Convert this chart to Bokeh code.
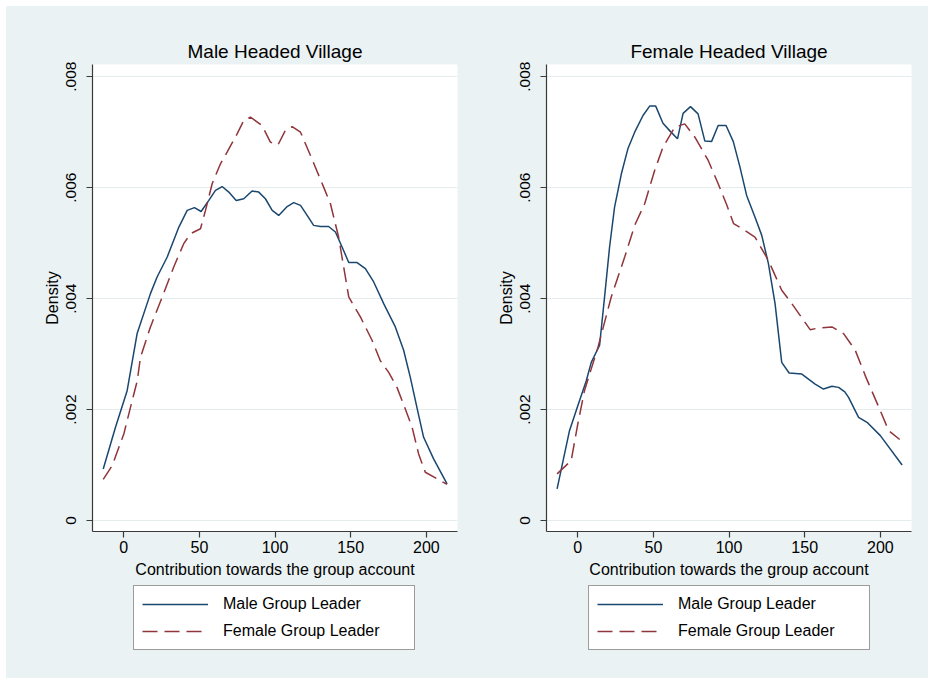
from bokeh.plotting import figure
from bokeh.models import (Range1d, FixedTicker, CustomJSTickFormatter, Legend, LegendItem)
from bokeh.layouts import row, column
from bokeh.embed import file_html
from bokeh.resources import INLINE

# ---------------- data ----------------
titles = ["Male Headed Village", "Female Headed Village"]
x_label = "Contribution towards the group account"
y_label = "Density"
series_names = ["Male Group Leader", "Female Group Leader"]
x_ticks = [0, 50, 100, 150, 200]
y_ticks = [0, 0.002, 0.004, 0.006, 0.008]

# Male headed village, male group leader
mhv_male_x = [-13.6, -5.5, 2.2, 8.8, 17.6, 22.0, 28.7, 36.4, 41.9, 46.7, 51.1, 56.2, 60.6, 65.0,
              69.4, 74.3, 79.3, 84.8, 89.2, 93.6, 98.1, 102.4, 108.0, 112.3, 116.8, 121.2,
              125.5, 130.0, 135.4, 139.9, 144.3, 148.7, 154.2, 159.7, 165.2, 171.8, 179.5,
              185.0, 189.4, 194.9, 198.2, 204.8, 213.7]
mhv_male_y = [0.00093, 0.00168, 0.00234, 0.00337, 0.00409, 0.00439, 0.00475, 0.00529, 0.00559,
              0.00564, 0.00557, 0.00577, 0.00595, 0.00602, 0.00592, 0.00577, 0.00580, 0.00594,
              0.00592, 0.00580, 0.00559, 0.00550, 0.00566, 0.00573, 0.00568, 0.00550, 0.00532,
              0.00530, 0.00530, 0.00520, 0.00493, 0.00465, 0.00465, 0.00454, 0.00430, 0.00391,
              0.00349, 0.00307, 0.00258, 0.00190, 0.00150, 0.00111, 0.00066]

# Male headed village, female group leader
mhv_female_x = [-13.6, -7.7, 0.0, 4.4, 8.9, 11.0, 17.6, 25.4, 33.0, 39.6, 44.1, 50.7, 54.0, 58.4,
                63.9, 68.3, 74.9, 79.3, 83.7, 91.4, 96.9, 101.9, 106.8, 111.3, 116.8, 123.4,
                132.1, 136.6, 142.0, 148.7, 156.4, 164.1, 169.6, 175.1, 180.6, 186.1, 190.6,
                194.9, 199.3, 213.7]
mhv_female_y = [0.00074, 0.00099, 0.00156, 0.00204, 0.00252, 0.00294, 0.00349, 0.00403, 0.00457,
                0.00499, 0.00517, 0.00526, 0.00559, 0.00607, 0.00643, 0.00664, 0.00697, 0.00721,
                0.00727, 0.00712, 0.00682, 0.00677, 0.00703, 0.00710, 0.00700, 0.00658, 0.00601,
                0.00571, 0.00511, 0.00403, 0.00367, 0.00325, 0.00288, 0.00267, 0.00240, 0.00201,
                0.00168, 0.00120, 0.00087, 0.00065]

# Female headed village, male group leader
fhv_male_x = [-13.7, -5.5, 0.0, 5.6, 8.9, 14.4, 17.7, 21.0, 24.3, 28.8, 33.1, 37.6, 43.1, 47.5,
              51.5, 56.3, 61.3, 65.9, 69.6, 74.5, 79.5, 84.0, 88.4, 92.8, 98.0, 102.8, 107.2,
              111.6, 117.1, 121.6, 126.0, 130.4, 134.8, 139.7, 148.1, 152.5, 156.9, 162.4,
              168.0, 172.4, 176.5, 179.0, 185.6, 191.2, 200.0, 214.4]
fhv_male_y = [0.00057, 0.00162, 0.00207, 0.00252, 0.00285, 0.00316, 0.00403, 0.00493, 0.00565,
              0.00625, 0.00670, 0.00700, 0.00730, 0.00747, 0.00747, 0.00716, 0.00701, 0.00688,
              0.00734, 0.00746, 0.00733, 0.00684, 0.00683, 0.00712, 0.00712, 0.00683, 0.00637,
              0.00586, 0.00547, 0.00514, 0.00463, 0.00391, 0.00285, 0.00266, 0.00264, 0.00255,
              0.00246, 0.00237, 0.00242, 0.00240, 0.00232, 0.00222, 0.00186, 0.00177, 0.00153,
              0.00100]

# Female headed village, female group leader
fhv_female_x = [-13.7, -4.4, 0.0, 4.4, 13.3, 22.1, 31.0, 37.6, 44.2, 50.8, 56.3, 64.1, 70.7,
                77.4, 86.2, 92.8, 98.3, 103.0, 110.5, 117.1, 126.0, 134.8, 141.5, 153.6, 159.1,
                168.0, 175.7, 183.4, 190.5, 199.5, 205.5, 212.8]
fhv_female_y = [0.00084, 0.00108, 0.00174, 0.00234, 0.00312, 0.00403, 0.00475, 0.00532, 0.00571,
                0.00631, 0.00673, 0.00709, 0.00715, 0.00691, 0.00649, 0.00607, 0.00570, 0.00535,
                0.00523, 0.00511, 0.00469, 0.00415, 0.00391, 0.00344, 0.00347, 0.00349, 0.00337,
                0.00307, 0.00258, 0.00201, 0.00162, 0.00146]

# ---------------- style ----------------
BG = "#eaf2f3"
NAVY = "#1a476f"
MAROON = "#90353b"
FONT = "Liberation Sans"
PANEL_W = 461
MAIN_H = 576
LEG_H = 96
DASH = "15 7"
LW = 1.5


def make_panel(title, male_x, male_y, fem_x, fem_y, border_left, border_right, legend_x):
    p = figure(width=PANEL_W, height=MAIN_H, output_backend="svg", toolbar_location=None,
               x_range=Range1d(-20.7, 220.6), y_range=Range1d(-0.000198, 0.00822),
               min_border_left=border_left, min_border_right=border_right,
               min_border_top=58, min_border_bottom=MAIN_H - 525,
               border_fill_color=BG, background_fill_color="white",
               outline_line_color=None)
    p.title.text = title
    p.title.align = "center"
    p.title.text_font = FONT
    p.title.text_font_size = "19px"
    p.title.text_font_style = "normal"
    p.title.text_color = "black"
    p.title.standoff = 5

    p.line(male_x, male_y, line_color=NAVY, line_width=LW)
    p.line(fem_x, fem_y, line_color=MAROON, line_width=LW, line_dash=DASH)

    p.xgrid.visible = False
    p.ygrid.grid_line_color = "#e4ecee"
    p.ygrid.grid_line_width = 1.2

    for ax in (p.xaxis[0], p.yaxis[0]):
        ax.axis_line_color = "#3a3a3a"
        ax.axis_line_width = 1.2
        ax.major_tick_line_color = "#3a3a3a"
        ax.major_tick_line_width = 1.2
        ax.major_tick_in = 0
        ax.major_tick_out = 6
        ax.minor_tick_line_color = None
        ax.major_label_text_font = FONT
        ax.major_label_text_color = "black"
        ax.axis_label_text_font = FONT
        ax.axis_label_text_font_style = "normal"
        ax.axis_label_text_color = "black"

    p.xaxis.ticker = FixedTicker(ticks=x_ticks)
    p.xaxis.major_label_text_font_size = "16px"
    p.xaxis.major_label_standoff = 3
    p.xaxis.axis_label = x_label
    p.xaxis.axis_label_text_font_size = "16px"
    p.xaxis.axis_label_standoff = 5

    p.yaxis.ticker = FixedTicker(ticks=y_ticks)
    p.yaxis.formatter = CustomJSTickFormatter(
        code="return tick == 0 ? '0' : tick.toFixed(3).replace(/^0/, '');")
    p.yaxis.major_label_orientation = "vertical"
    p.yaxis.major_label_text_font_size = "15.5px"
    p.yaxis.major_label_standoff = 10
    p.yaxis.axis_label = y_label
    p.yaxis.axis_label_text_font_size = "16px"
    p.yaxis.axis_label_standoff = 3

    # legend area below the panel (its frame aligns with the panel's frame);
    # the key lines reuse the series but sit outside this strip's view range
    lg = figure(width=PANEL_W, height=LEG_H, output_backend="svg", toolbar_location=None,
                x_range=Range1d(-20.7, 220.6), y_range=Range1d(1.0, 2.0),
                x_axis_type=None, y_axis_type=None,
                min_border_left=border_left, min_border_right=border_right,
                min_border_top=0, min_border_bottom=0,
                border_fill_color=BG, background_fill_color=BG, outline_line_color=None)
    k1 = lg.line(male_x, male_y, line_color=NAVY, line_width=LW)
    k2 = lg.line(fem_x, fem_y, line_color=MAROON, line_width=LW, line_dash=DASH)
    legend = Legend(items=[LegendItem(label=series_names[0], renderers=[k1]),
                           LegendItem(label=series_names[1], renderers=[k2])],
                    location=(legend_x, 28), orientation="vertical",
                    glyph_width=66, glyph_height=20, label_height=20,
                    label_width=183, label_standoff=15, padding=8, spacing=7,
                    margin=0,
                    label_text_font=FONT, label_text_font_size="16px",
                    label_text_color="black",
                    border_line_color="#3a3a3a", border_line_width=1.5,
                    background_fill_color="white", background_fill_alpha=1.0)
    lg.add_layout(legend, "center")
    return column(p, lg, spacing=0, styles={"background-color": BG})


c1 = make_panel(titles[0], mhv_male_x, mhv_male_y, mhv_female_x, mhv_female_y, 86, 10, 41)
c2 = make_panel(titles[1], fhv_male_x, fhv_male_y, fhv_female_x, fhv_female_y, 79, 17, 42)

layout = row(c1, c2, spacing=0, margin=(6, 0, 0, 6), styles={"background-color": BG})
open("out.html", "w").write(file_html(layout, INLINE))
